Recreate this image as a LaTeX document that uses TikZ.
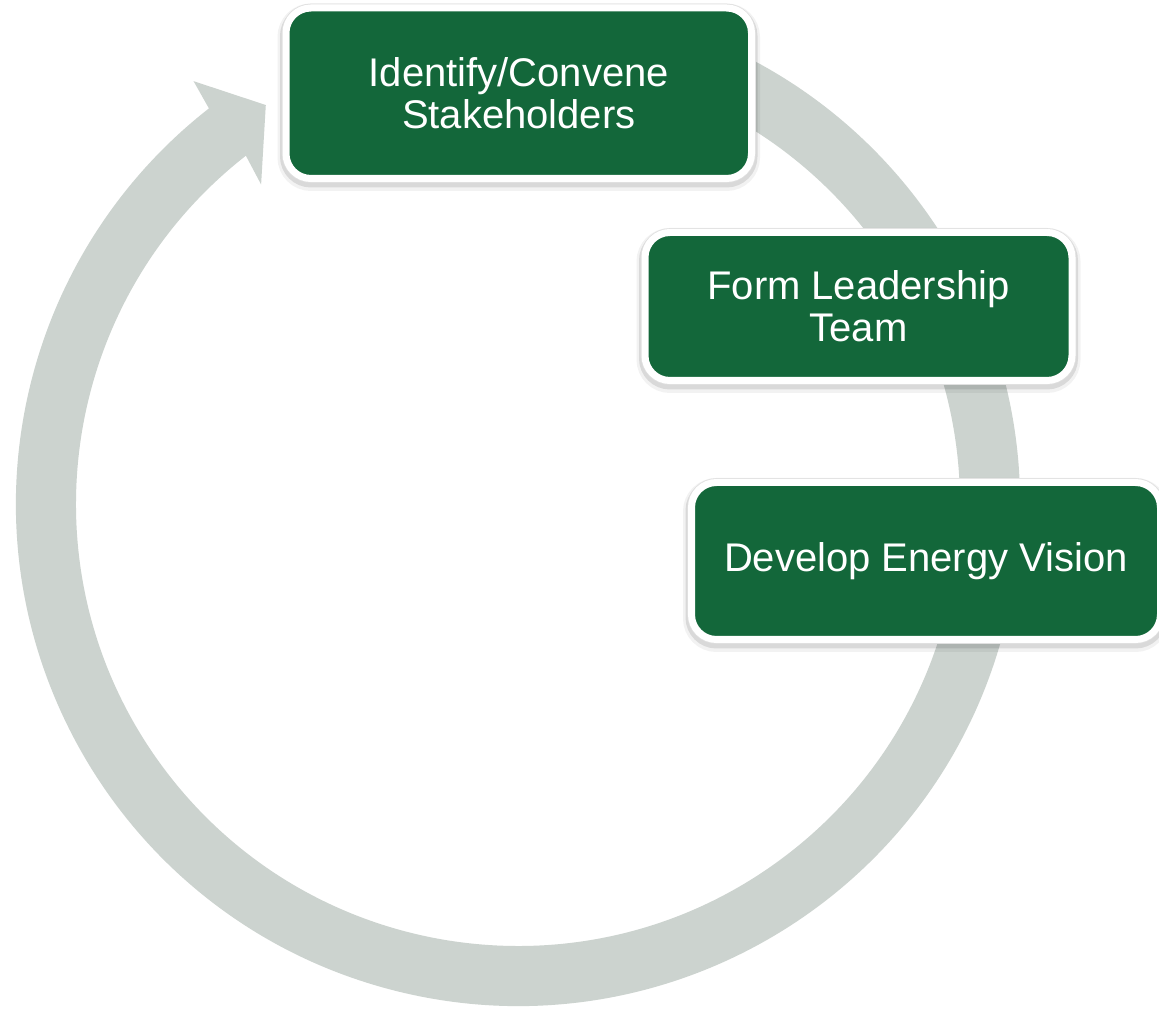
\documentclass[tikz,border=0pt]{standalone}
\usepackage{fontspec}
\setmainfont{Liberation Sans}
\definecolor{ringgray}{RGB}{204,211,207}
\definecolor{boxgreen}{RGB}{19,103,58}
\tikzset{
  stepbox/.style={rectangle, rounded corners=25pt, inner sep=0pt,
    fill=boxgreen, draw=white, line width=7pt, text=white, align=center,
    font=\fontsize{40}{42}\selectfont,
    preaction={draw=black, draw opacity=0.05, line width=17pt, transform canvas={yshift=-4pt}},
    preaction={draw=black, draw opacity=0.10, line width=12pt, transform canvas={yshift=-3pt}},
    preaction={draw=black!12, line width=8.6pt}},
  ring/.style={fill=ringgray}
}
\begin{document}
\begin{tikzpicture}[x=1pt,y=1pt]
\useasboundingbox (0,0) rectangle (1159,1009);
\fill[white] (0,0) rectangle (1159,1009);
% circular arrow
\begin{scope}[shift={(518,505)}]
\fill[ring] (75:502) arc[start angle=75, end angle=-232, radius=502]
  -- (127.5:533) -- (122.3:472) -- (128.8:410) -- (-232:442)
  arc[start angle=-232, end angle=75, radius=442] -- cycle;
\end{scope}
% steps
\node[stepbox, minimum width=465.5pt, minimum height=170.5pt] (box1) at (518.75,915.75) {Identify/Convene\\Stakeholders};
\node[stepbox, minimum width=427pt, minimum height=148pt] (box2) at (858.5,702.5) {Form Leadership\\Team};
\node[stepbox, minimum width=469pt, minimum height=157pt] (box3) at (926,448) {Develop Energy Vision};
\end{tikzpicture}
\end{document}
